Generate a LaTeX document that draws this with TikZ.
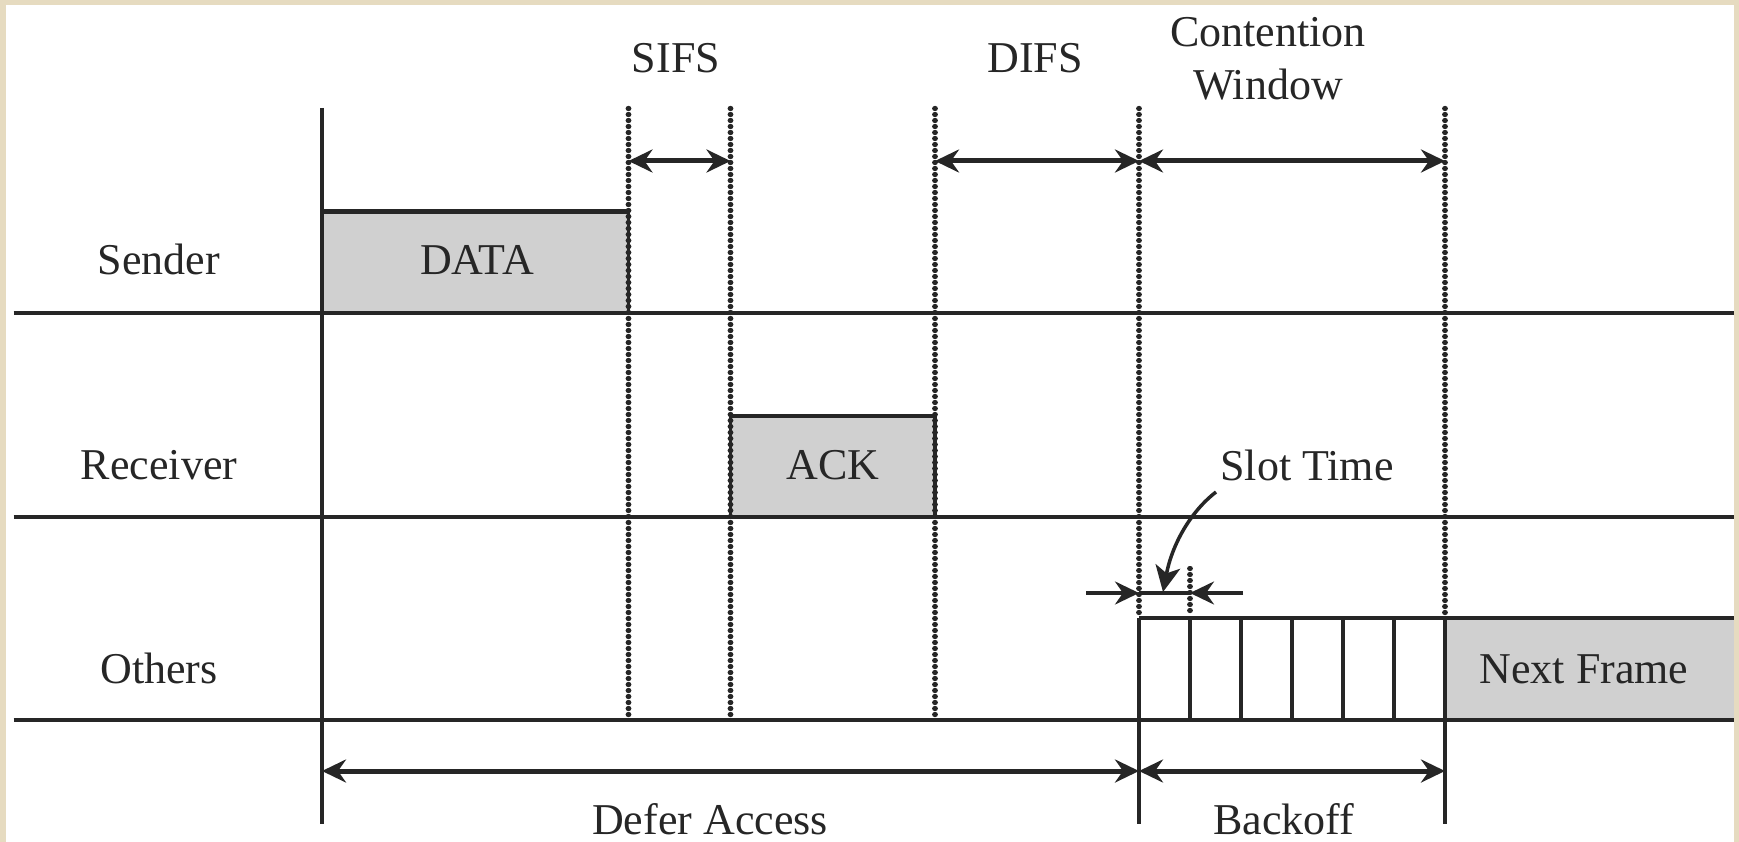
\documentclass[tikz,border=0pt]{standalone}
\usepackage{fontspec}
\setmainfont{Liberation Serif}
\usetikzlibrary{arrows.meta}
\definecolor{ink}{HTML}{262626}
\definecolor{boxgray}{HTML}{D0D0D0}
\definecolor{parch}{HTML}{E6DBC0}
\newcommand{\dotcolumn}[3]{% x, y start, y end
  \pgfmathsetmacro{\dcn}{int(floor((#3-#2-5)/6))}%
  \foreach \k in {0,...,\dcn} {\fill[dotcap] ({#1-2.8},{#2+\k*6}) rectangle ({#1+2.8},{#2+\k*6+5});}%
}
\begin{document}
\begin{tikzpicture}[x=1pt,y=-1pt,
  >={Stealth[length=24pt,width=23pt,inset=8pt]},
  lbl/.style={font=\fontsize{44}{52}\selectfont, text=ink, inner sep=0pt, anchor=base},
  axisline/.style={draw=ink, line width=4.5pt},
  thinline/.style={draw=ink, line width=3.5pt},
  dotcap/.style={fill=ink, rounded corners=2.3pt},
  dimline/.style={draw=ink, line width=5pt, <->},
  slotarrow/.style={draw=ink, line width=3.5pt, ->},
  curvearrow/.style={draw=ink, line width=3.5pt, -{Stealth[length=26pt,width=25pt,inset=7pt]}},
  boxfill/.style={fill=boxgray},
]
% background
\fill[parch] (0,0) rectangle (1739,842);
\fill[white] (6,5) rectangle (1734,842);
\useasboundingbox (0,0) rectangle (1739,842);

% key coordinates
\coordinate (s0) at (322,108);   \coordinate (s1) at (322,824);
\coordinate (d4m) at (1139,618); \coordinate (d4b) at (1139,824);
\coordinate (d5m) at (1445,618); \coordinate (d5b) at (1445,824);

% gray boxes
\fill[boxfill] (322,211.7) rectangle (628.5,313);
\fill[boxfill] (730.5,416) rectangle (935,517);
\fill[boxfill] (1445,618) rectangle (1734,720);

% row lines
\coordinate (sL) at (13.5,313); \coordinate (sR) at (1734,313);
\coordinate (rL) at (13.5,517); \coordinate (rR) at (1734,517);
\coordinate (oL) at (13.5,720); \coordinate (oR) at (1734,720);
\draw[axisline] (sL) -- (sR);
\draw[axisline] (rL) -- (rR);
\draw[axisline] (oL) -- (oR);

% box outlines
\draw[axisline] (322,211.7) -- (628.5,211.7);
\draw[thinline] (628.5,211.7) -- (628.5,313);
\draw[axisline] (730.5,416) -- (935,416);
\draw[thinline] (730.5,416) -- (730.5,517);
\draw[thinline] (935,416) -- (935,517);
\draw[axisline] (1139,618) -- (1734,618);

% slots
\draw[thinline] (d4m) -- (1139,720);
\draw[axisline] (1190,618) -- (1190,720);
\foreach \sx in {1241,1292,1343,1394} \draw[thinline] (\sx,618) -- (\sx,720);

% vertical lines
\draw[thinline] (s0) -- (s1);
\dotcolumn{628.5}{106}{720}
\dotcolumn{730.5}{106}{720}
\dotcolumn{935}{106}{720}
\dotcolumn{1139}{106}{618}
\dotcolumn{1445}{106}{618}
\draw[thinline] (d4m) -- (d4b);
\draw[thinline] (d5m) -- (d5b);

% top dimension arrows
\coordinate (a1) at (628.5,161); \coordinate (a2) at (730.5,161);
\coordinate (a3) at (935,161);   \coordinate (a4) at (1139,161);
\coordinate (a5) at (1445,161);
\draw[dimline] (a1) -- (a2);
\draw[dimline] (a3) -- (a4);
\draw[dimline] (a4) -- (a5);

% bottom dimension arrows
\coordinate (b0) at (322,771); \coordinate (b4) at (1139,771); \coordinate (b5) at (1445,771);
\draw[dimline] (b0) -- (b4);
\draw[dimline] (b4) -- (b5);

% slot time marker
\dotcolumn{1190}{566}{618}
\coordinate (stL) at (1086,593); \coordinate (stA) at (1139,593);
\coordinate (stB) at (1190,593); \coordinate (stR) at (1243,593);
\draw[thinline] (stA) -- (stB);
\draw[slotarrow] (stL) -- (stA);
\draw[slotarrow] (stR) -- (stB);
\coordinate (cvS) at (1216,492); \coordinate (cvE) at (1163,592);
\draw[curvearrow] (cvS) .. controls (1190,512) and (1172,545) .. (cvE);

% labels
\node[lbl] (sifs) at (676,73) {SIFS};
\node[lbl] (difs) at (1035,73) {DIFS};
\node[lbl] (cw1) at (1268,47) {Contention};
\node[lbl] (cw2) at (1268,100) {Window};
\node[lbl] (sender) at (159,275) {Sender};
\node[lbl] (receiver) at (159,479) {Receiver};
\node[lbl] (others) at (159,683) {Others};
\node[lbl] (data) at (477,275) {DATA};
\node[lbl] (ack) at (833,479) {ACK};
\node[lbl] (next) at (1584,683) {Next Frame};
\node[lbl] (slot) at (1307,480) {Slot Time};
\node[lbl] (defer) at (710,834) {Defer Access};
\node[lbl] (backoff) at (1284,834) {Backoff};
\end{tikzpicture}
\end{document}
